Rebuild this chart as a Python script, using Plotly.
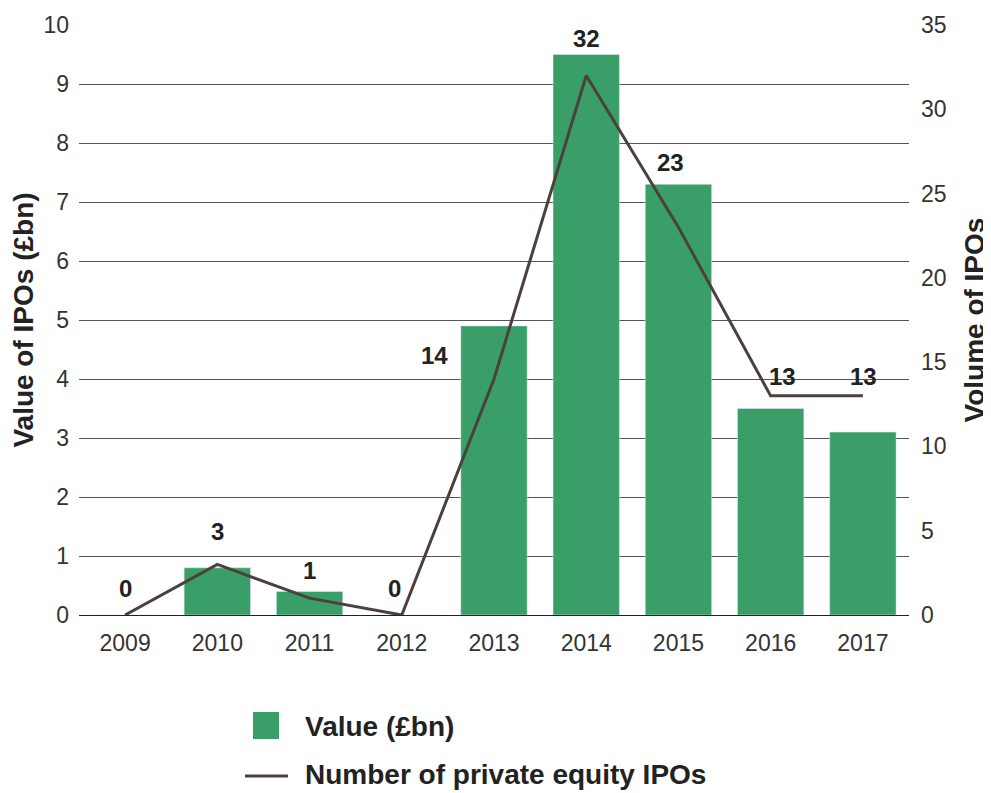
import plotly.graph_objects as go

years = ["2009", "2010", "2011", "2012", "2013", "2014", "2015", "2016", "2017"]
value_bn = [0, 0.8, 0.4, 0, 4.9, 9.5, 7.3, 3.5, 3.1]
ipo_count = [0, 3, 1, 0, 14, 32, 23, 13, 13]
left_ticks = list(range(0, 11))
right_ticks = list(range(0, 36, 5))

GREEN = "#3a9e68"
BROWN = "#4b403c"
FONT = "Liberation Sans, Arial, Helvetica, sans-serif"

fig = go.Figure()
fig.add_trace(go.Bar(x=years, y=value_bn, name="Value (£bn)", marker_color=GREEN,
                     width=0.72, showlegend=False, yaxis="y"))
fig.add_trace(go.Scatter(x=years, y=ipo_count, name="Number of private equity IPOs",
                         mode="lines", line=dict(color=BROWN, width=3),
                         showlegend=False, yaxis="y2"))

# label offsets (pixels: dx, gap above point) – styling only
label_shift = {"2009": (0, 14), "2010": (0, 20), "2011": (0, 15), "2012": (-7, 14),
               "2013": (-60, 11), "2014": (0, 25), "2015": (-8, 52),
               "2016": (12, 7), "2017": (1, 7)}
for i, (yr, n) in enumerate(zip(years, ipo_count)):
    dx, dy = label_shift.get(yr, (0, 14))
    fig.add_annotation(x=i, y=n, xref="x", yref="y2", text=f"<b>{n}</b>", showarrow=False,
                       yanchor="bottom", xanchor="center", xshift=dx, yshift=dy - 3,
                       font=dict(family=FONT, size=24, color="#222"))

# page has an 8px body margin; size the figure so the plot lands where the reference has it
fig.update_layout(
    width=983, height=785,
    margin=dict(l=71, r=82, t=17, b=178),
    plot_bgcolor="white", paper_bgcolor="white",
    font=dict(family=FONT, size=23, color="#333"),
    xaxis=dict(type="category", range=[-0.5, 8.5], showgrid=False, showline=False,
               ticks="", tickfont=dict(size=23, color="#333"), ticklabelstandoff=12,
               automargin=False),
    yaxis=dict(range=[0, 10], tickvals=left_ticks, showgrid=True, gridcolor="#555",
               gridwidth=1, zeroline=True, zerolinecolor="#222", zerolinewidth=1,
               showline=False, ticks="", tickfont=dict(size=23, color="#333"),
               ticklabelstandoff=9, automargin=False,
               title=dict(text="<b>Value of IPOs (£bn)</b>", font=dict(size=28, color="#222"),
                          standoff=4)),
    yaxis2=dict(range=[0, 35], tickvals=right_ticks, overlaying="y", side="right",
                showgrid=False, zeroline=False, showline=False, ticks="",
                tickfont=dict(size=23, color="#333"), ticklabelstandoff=11,
                automargin=False,
                title=dict(text="<b>Volume of IPOs</b>", font=dict(size=28, color="#222"),
                           standoff=18)),
)

# manual legend
fig.add_shape(type="rect", xref="paper", yref="paper", x0=(253-79)/830, x1=(279-79)/830,
              y0=(615-739)/590, y1=(615-712)/590, fillcolor=GREEN, line_width=0)
fig.add_annotation(xref="paper", yref="paper", x=(303-79)/830, y=(615-726)/590,
                   xanchor="left", yanchor="middle", showarrow=False,
                   text="<b>Value (£bn)</b>", font=dict(family=FONT, size=28, color="#222"))
fig.add_shape(type="line", xref="paper", yref="paper", x0=(245-79)/830, x1=(288-79)/830,
              y0=(615-776)/590, y1=(615-776)/590, line=dict(color=BROWN, width=3))
fig.add_annotation(xref="paper", yref="paper", x=(303-79)/830, y=(615-774)/590,
                   xanchor="left", yanchor="middle", showarrow=False,
                   text="<b>Number of private equity IPOs</b>",
                   font=dict(family=FONT, size=28, color="#222"))

fig.write_html("out.html")
